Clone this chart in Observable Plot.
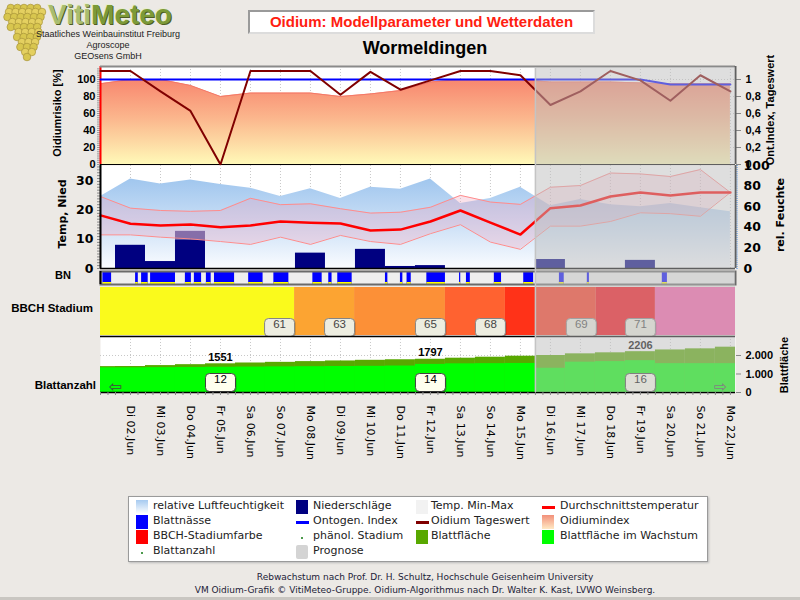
<!DOCTYPE html>
<html><head><meta charset="utf-8">
<script src="https://cdn.jsdelivr.net/npm/d3@7"></script>
<script src="https://cdn.jsdelivr.net/npm/@observablehq/plot@0.6"></script>
<style>
html,body{margin:0;padding:0;background:#ECE9E5;}
#root{position:relative;width:800px;height:600px;overflow:hidden;background:#ECE9E5;font-family:"Liberation Sans",Arial,sans-serif;}
.abs{position:absolute;}
.pl{position:absolute;left:0;width:800px;}
.pl svg{overflow:visible;display:block;}
.rot{position:absolute;white-space:nowrap;transform:translate(-50%,-50%) rotate(-90deg);font-weight:bold;}
</style></head><body><div id="root"></div>
<script>
// ---------------- DATA ----------------
const dayLabels = ["Mo 01.Jun","Di 02.Jun","Mi 03.Jun","Do 04.Jun","Fr 05.Jun","Sa 06.Jun","So 07.Jun","Mo 08.Jun","Di 09.Jun","Mi 10.Jun","Do 11.Jun","Fr 12.Jun","Sa 13.Jun","So 14.Jun","Mo 15.Jun","Di 16.Jun","Mi 17.Jun","Do 18.Jun","Fr 19.Jun","Sa 20.Jun","So 21.Jun","Mo 22.Jun"];
const oidiumIndex = [95,100,100,93,80,84,84,84,80,83,87,97,100,100,100,97,97,97,96,95,95,95];
const ontogenIndex = [1,1,1,1,1,1,1,1,1,1,1,1,1,1,1,1,1,1,1,0.94,0.94,0.94];
const oidiumTageswert = [1.10,1.10,0.86,0.63,0.0,1.10,1.10,1.10,0.82,1.09,0.88,0.99,1.10,1.10,1.05,0.70,0.86,1.10,0.99,0.75,1.05,0.86];
const humidity = [70,87,82,86,81.5,78,70,77.5,68,79,77,87,63,68,79,61,67,62,60,63,59,55];
const tempMean = [18.3,15.4,14.8,15.2,14.2,14.8,16.2,15.8,15.5,13.1,13.4,16.2,20.0,15.8,11.7,20.8,21.7,24.8,26.2,25.2,26.2,26.2];
const tempMax = [24.8,20.8,20.0,19.7,20.0,24.2,22.0,22.3,20.6,19.1,19.4,21.1,25.2,22.9,22.1,28.0,28.6,32.9,32.6,31.7,34.1,26.2];
const tempMin = [11.6,11.6,10.8,10.2,9.3,8.3,10.8,8.3,11.4,9.3,8.3,12.0,15.1,9.1,6.6,14.6,14.6,16.2,19.2,18.9,18.0,26.2];
const precipDays = [1,2,3,7,9,10,11,15,18];
const precipMm = [8.0,2.4,9.7,5.3,6.6,0.7,1.0,3.1,2.8];
const precipForecastDays = [3];
const precipForecastMm = [12.8];
const leafWetStart = [0.08,1.17,1.37,1.67,2.83,3.13,3.53,3.8,4.94,5.78,7.08,7.61,7.91,9.5,10.0,10.22,10.88,11.97,12.2,13.13,14.11,15.3,16.23,18.73];
const leafWetEnd   = [0.37,1.26,1.59,2.5,3.03,3.37,3.69,4.47,5.42,6.28,7.39,7.72,8.39,9.58,10.08,10.36,11.5,12.01,12.33,13.37,14.44,15.46,16.3,18.9];
const bbchCodes = ["57","61","63","65","68","69","71"];
const bbchStart = [0,6.47,8.47,11.5,13.5,16.53,18.5];
const leafAreaTotal = [1400,1405,1455,1505,1551,1595,1630,1670,1705,1740,1770,1797,1854,1908,1962,2000,2090,2145,2206,2300,2360,2450];
const leafAreaGrowing = [1335,1335,1345,1355,1365,1375,1385,1395,1405,1415,1430,1520,1550,1560,1570,1310,1640,1670,1720,1560,1560,1560];
const leafCountDays = [4,11,18];
const leafCount = [12,14,16];
const prognosisStart = 14.5;

// ---------------- SETUP ----------------
const XMAX = 21.17;
const root = document.getElementById("root");
const days = d3.range(dayLabels.length);
const gridDays = days.slice(1);
const oidTable = days.map(i => ({day: i, index: oidiumIndex[i], ontogen: ontogenIndex[i], tages: oidiumTageswert[i]}));
const humTable = days.map(i => ({day: i, hum: humidity[i]}));
const tempTable = days.map(i => ({day: i, mean: tempMean[i], max: tempMax[i], min: tempMin[i]}));
const precipTable = precipDays.map((d, k) => ({day: d, mm: precipMm[k]}));
const precipFcTable = precipForecastDays.map((d, k) => ({day: d, mm: precipForecastMm[k]}));
const bnTable = leafWetStart.map((s, k) => ({start: s, end: leafWetEnd[k]}));
const bbchTable = bbchCodes.map((c, k) => ({code: c, start: bbchStart[k], end: k + 1 < bbchStart.length ? bbchStart[k + 1] : XMAX}));
const leafTable = days.map(i => ({day: i, total: leafAreaTotal[i], growing: leafAreaGrowing[i]}));
const leafLabelTable = leafCountDays.map((d, k) => ({day: d, count: leafCount[k], area: leafAreaTotal[d]}));
const dayTable = days.map(i => ({day: i, label: dayLabels[i]}));
const prognosis = [{start: prognosisStart, end: XMAX}];

const common = {
  width: 800, marginLeft: 100, marginRight: 65,
  x: {domain: [0, XMAX], axis: null},
  style: {background: "transparent", overflow: "visible", color: "black", fontFamily: "Liberation Sans, Arial, sans-serif", fontSize: "11px"}
};
const dotted = {stroke: "#c8c8c8", strokeDasharray: "1,2"};
const svgNS = "http://www.w3.org/2000/svg";
function addGradient(svg, id, stops) {
  let defs = svg.querySelector("defs");
  if (!defs) { defs = document.createElementNS(svgNS, "defs"); svg.insertBefore(defs, svg.firstChild); }
  const g = document.createElementNS(svgNS, "linearGradient");
  g.setAttribute("id", id); g.setAttribute("x1", "0"); g.setAttribute("y1", "0"); g.setAttribute("x2", "0"); g.setAttribute("y2", "1");
  for (const [o, c] of stops) { const s = document.createElementNS(svgNS, "stop"); s.setAttribute("offset", o); s.setAttribute("stop-color", c); g.appendChild(s); }
  defs.appendChild(g);
}
function place(svg, top) {
  const div = document.createElement("div");
  div.className = "pl"; div.style.top = top + "px";
  div.appendChild(svg); root.appendChild(div);
  return svg;
}
// rounded label box symbol (30 x 18 px)
const boxSymbol = {draw(ctx) {
  const w = 15, h = 9, r = 4;
  ctx.moveTo(-w + r, -h); ctx.lineTo(w - r, -h); ctx.arcTo(w, -h, w, -h + r, r);
  ctx.lineTo(w, h - r); ctx.arcTo(w, h, w - r, h, r); ctx.lineTo(-w + r, h);
  ctx.arcTo(-w, h, -w, h - r, r); ctx.lineTo(-w, -h + r); ctx.arcTo(-w, -h, -w + r, -h, r); ctx.closePath();
}};
const fmtComma = d => d === 0 ? "0" : d === 1 ? "1" : d.toFixed(1).replace(".", ",");
const fmtThousand = d => d3.format(",")(d).replace(/,/g, ".");

// ---------------- PANEL 1: Oidium ----------------
const p1a = Plot.plot({...common, height: 99, marginTop: 0, marginBottom: 1,
  y: {domain: [0, 115.3], axis: null},
  marks: [
    Plot.frame({fill: "white", stroke: "none"}),
    Plot.ruleX(gridDays, dotted),
    Plot.ruleY([20, 40, 60, 80, 100], dotted),
    Plot.areaY(oidTable, {x: "day", y: "index", fill: "url(#gOid)"}),
    Plot.line(oidTable, {x: "day", y: "index", stroke: "#F47868", strokeWidth: 1}),
    Plot.axisY({ticks: d3.range(0, 115, 2.5), tickSize: 3, tickFormat: () => "", stroke: "#999", label: null}),
    Plot.axisY({ticks: [0, 20, 40, 60, 80, 100], tickSize: 0, tickPadding: 5, fontWeight: "bold", fontSize: 11, label: null}),
    Plot.ruleX([0], {stroke: "#FF0000", strokeWidth: 2}),
    Plot.ruleY([115.3], {stroke: "#8a8a8a", strokeWidth: 2}),
    Plot.ruleY([0], {stroke: "black"})
  ]});
addGradient(p1a, "gOid", [[0, "#F8866E"], [0.45, "#FBB58C"], [1, "#FFF9B8"]]);
place(p1a, 66);

const p1b = Plot.plot({...common, height: 99, marginTop: 0, marginBottom: 1,
  y: {domain: [0, 1.153], axis: null},
  marks: [
    Plot.line(oidTable, {x: "day", y: "ontogen", stroke: "#0000FF", strokeWidth: 2}),
    Plot.line(oidTable, {x: "day", y: "tages", stroke: "#800000", strokeWidth: 2}),
    Plot.axisY({anchor: "right", ticks: [0, 0.2, 0.4, 0.6, 0.8, 1], tickSize: 5, tickPadding: 5, tickFormat: fmtComma, fontWeight: "bold", fontSize: 11, stroke: "#888", label: null}),
    Plot.ruleX([XMAX], {stroke: "#606060", strokeWidth: 2})
  ]});
place(p1b, 66);

// ---------------- PANEL 2: Temp / Nied / Feuchte ----------------
const p2a = Plot.plot({...common, height: 104, marginTop: 0, marginBottom: 1,
  y: {domain: [0, 100], axis: null},
  marks: [
    Plot.frame({fill: "white", stroke: "none"}),
    Plot.ruleX(gridDays, dotted),
    Plot.areaY(humTable, {x: "day", y: "hum", fill: "url(#gHum)"}),
    Plot.axisY({anchor: "right", ticks: d3.range(0, 101, 2), tickSize: 2, tickFormat: () => "", stroke: "#8FB6E6", label: null}),
    Plot.axisY({anchor: "right", ticks: [0, 20, 40, 60, 80, 100], tickSize: 0, tickPadding: 8, fontFamily: "DejaVu Sans", fontWeight: "bold", fontSize: 12.5, label: null})
  ]});
addGradient(p2a, "gHum", [[0, "#A0C6EE"], [0.55, "#CFE2F7"], [1, "#FAFCFF"]]);
place(p2a, 165);

const p2b = Plot.plot({...common, height: 104, marginTop: 0, marginBottom: 1,
  y: {domain: [0, 35.5], axis: null},
  marks: [
    Plot.rectY(precipFcTable, {x1: d => d.day - 0.5, x2: d => d.day + 0.5, y: "mm", fill: "#5A5AA2"}),
    Plot.rectY(precipTable, {x1: d => d.day - 0.5, x2: d => d.day + 0.5, y: "mm", fill: "#000080"}),
    Plot.areaY(tempTable, {x: "day", y1: "min", y2: "max", fill: "#F0A0B8", fillOpacity: 0.3}),
    Plot.line(tempTable, {x: "day", y: "max", stroke: "#FF8C8C", strokeWidth: 1}),
    Plot.line(tempTable, {x: "day", y: "min", stroke: "#FF8C8C", strokeWidth: 1}),
    Plot.line(tempTable, {x: "day", y: "mean", stroke: "#FF0000", strokeWidth: 2.5}),
    Plot.axisY({ticks: d3.range(0, 35.5, 1), tickSize: 3, tickFormat: () => "", stroke: "#888", label: null}),
    Plot.axisY({ticks: [0, 10, 20, 30], tickSize: 0, tickPadding: 7, fontFamily: "DejaVu Sans", fontWeight: "bold", fontSize: 12.5, label: null}),
    Plot.ruleX([0], {stroke: "black", strokeWidth: 2}),
    Plot.ruleX([XMAX], {stroke: "#606060", strokeWidth: 2}),
    Plot.ruleY([0], {stroke: "black", strokeWidth: 1.5})
  ]});
place(p2b, 165);

// ---------------- BN strip ----------------
const p3 = Plot.plot({...common, height: 15, marginTop: 1, marginBottom: 1,
  marks: [
    Plot.frame({fill: "#EEEEEE", stroke: "none"}),
    Plot.rect(bnTable, {x1: "start", x2: "end", fill: "#0000FF"}),
    Plot.rect(bnTable, {x1: "start", x2: "end", fill: "#FFFF00", insetTop: 11}),
    Plot.frame({stroke: "#6a6a6a", strokeWidth: 2}),
    Plot.ruleX([0], {stroke: "black", strokeWidth: 2})
  ]});
place(p3, 270);

// ---------------- BBCH ----------------
const bbchLabels = bbchTable.slice(1);
const p4 = Plot.plot({...common, height: 48, marginTop: 0, marginBottom: 0,
  color: {domain: bbchCodes, range: ["#FAFA1C", "#FCA432", "#FC9037", "#FF6230", "#FF3218", "#F8040E", "#FA5AA8"]},
  marks: [
    Plot.rect(bbchTable, {x1: "start", x2: "end", fill: "code"}),
    Plot.dot(bbchLabels, {x: "start", frameAnchor: "bottom", dy: -7, dx: -14, symbol: boxSymbol, fill: "rgba(0,0,0,0.22)", stroke: "none"}),
    Plot.dot(bbchLabels, {x: "start", frameAnchor: "bottom", dy: -8, dx: -15, symbol: boxSymbol, fill: "#EDEDE0", stroke: "#858585", strokeWidth: 1}),
    Plot.text(bbchLabels, {x: "start", text: "code", frameAnchor: "bottom", dy: -8, dx: -15, fill: "#444", fontSize: 11.5})
  ]});
place(p4, 287);

// ---------------- Blattfläche ----------------
const clampX = v => Math.max(0, Math.min(XMAX, v));
const p5 = Plot.plot({...common, height: 56, marginTop: 0, marginBottom: 0,
  y: {domain: [0, 3027], axis: null},
  marks: [
    Plot.frame({fill: "white", stroke: "none"}),
    Plot.ruleX(gridDays, dotted),
    Plot.ruleY([1000, 2000], dotted),
    Plot.rectY(leafTable, {x1: d => clampX(d.day - 0.5), x2: d => clampX(d.day + 0.5), y: "total", fill: "#58A800"}),
    Plot.rectY(leafTable, {x1: d => clampX(d.day - 0.5), x2: d => clampX(d.day + 0.5), y: "growing", fill: "#00FF00"}),
    Plot.text(leafLabelTable, {x: "day", y: "area", text: d => String(d.area), lineAnchor: "bottom", dy: -3, fontWeight: "bold", fontSize: 11}),
    Plot.dot(leafLabelTable, {x: "day", frameAnchor: "bottom", dy: -9, dx: 1, symbol: boxSymbol, fill: "rgba(0,0,0,0.25)", stroke: "none"}),
    Plot.dot(leafLabelTable, {x: "day", frameAnchor: "bottom", dy: -10, symbol: boxSymbol, fill: "#FFFFEE", stroke: "#404040", strokeWidth: 1}),
    Plot.text(leafLabelTable, {x: "day", text: d => String(d.count), frameAnchor: "bottom", dy: -10, fontSize: 11.5}),
    Plot.ruleY([3027], {stroke: "black", strokeWidth: 1.5}),
    Plot.ruleY([0], {stroke: "black", strokeWidth: 1.5}),
    Plot.axisX({ticks: d3.range(0, XMAX, 0.25), tickSize: 3, tickFormat: () => "", stroke: "#888", label: null}),
    Plot.text(dayTable.slice(1), {x: "day", text: "label", frameAnchor: "bottom", rotate: 90, textAnchor: "start", lineAnchor: "middle", dy: 13, fontSize: 11, fontFamily: "DejaVu Sans"}),
    Plot.axisY({anchor: "right", ticks: [0, 1000, 2000], tickSize: 5, tickPadding: 5, tickFormat: fmtThousand, fontWeight: "bold", fontSize: 11, stroke: "#888", label: null}),
    Plot.text(["\u21E6"], {text: d => d, frameAnchor: "bottom-left", dx: 8, dy: -1, fontSize: 16, fontFamily: "DejaVu Sans", fill: "#444"}),
    Plot.text(["\u21E8"], {text: d => d, frameAnchor: "bottom-right", dx: -8, dy: -1, fontSize: 16, fontFamily: "DejaVu Sans", fill: "#444"})
  ]});
place(p5, 336);

// ---------------- Prognose overlay ----------------
const p6 = Plot.plot({...common, height: 325, marginTop: 0, marginBottom: 0,
  marks: [
    Plot.rect(prognosis, {x1: "start", x2: "end", fill: "rgb(190,190,190)", fillOpacity: 0.5}),
    Plot.ruleX(prognosis, {x: "start", stroke: "#c4c4c4", strokeWidth: 1.5})
  ]});
place(p6, 67);
p6.style.pointerEvents = "none";

// ---------------- Texts ----------------
function txt(html, css) { const d = document.createElement("div"); d.className = "abs"; d.innerHTML = html; Object.assign(d.style, css); root.appendChild(d); return d; }
function rot(text, cx, cy, css) { const d = document.createElement("div"); d.className = "rot"; d.textContent = text; d.style.left = cx + "px"; d.style.top = cy + "px"; Object.assign(d.style, css || {}); root.appendChild(d); }

// Logo
const logo = document.createElementNS(svgNS, "svg");
logo.setAttribute("width", 60); logo.setAttribute("height", 66);
logo.style.position = "absolute"; logo.style.left = "0px"; logo.style.top = "0px";
const grapeRows = [[8, 5], [12, 6], [17, 6], [22, 5], [27, 5], [32, 4], [37, 4], [42, 3], [47, 3], [52, 2], [57, 1]];
grapeRows.forEach(([y, n], r) => {
  for (let k = 0; k < n; k++) {
    const c = document.createElementNS(svgNS, "circle");
    const x = 24 - (n - 1) * 3.3 + k * 6.6 + (r % 2 ? 1.5 : 0) + (r > 4 ? 3 : 0);
    c.setAttribute("cx", x); c.setAttribute("cy", y); c.setAttribute("r", 3.8);
    c.setAttribute("fill", r % 2 ? "#E4D060" : "#D8C64E"); c.setAttribute("stroke", "#A8943A"); c.setAttribute("stroke-width", 0.7);
    logo.appendChild(c);
  }
});
root.appendChild(logo);
txt('<span style="color:#A9BD70">Viti</span><span style="color:#7C9A38">Meteo</span>', {left: "48px", top: "3px", lineHeight: "23px", height: "23px", fontSize: "28px", fontWeight: "bold", whiteSpace: "nowrap", textShadow: "1px 1px 0 #4E5E22, -1px -1px 0 #E8EED0"});
const subCss = {left: "28px", width: "160px", textAlign: "center", fontSize: "9px", lineHeight: "11px", color: "#222", whiteSpace: "nowrap"};
txt("Staatliches Weinbauinstitut Freiburg", {...subCss, top: "29px"});
txt("Agroscope", {...subCss, top: "40px"});
txt("GEOsens GmbH", {...subCss, top: "51px"});

// Title
txt("Oidium: Modellparameter und Wetterdaten", {left: "248px", top: "10px", width: "343px", height: "20px", lineHeight: "20px", textAlign: "center", background: "white",
  borderTop: "2px solid #9a9a9a", borderLeft: "2px solid #9a9a9a", borderRight: "2px solid #dcdcdc", borderBottom: "2px solid #dcdcdc",
  color: "#FF2010", fontWeight: "bold", fontSize: "15px"});
txt("Wormeldingen", {left: "325px", top: "38px", width: "200px", textAlign: "center", fontWeight: "bold", fontSize: "18px", color: "#000"});

// Axis titles
rot("Oidiumrisiko [%]", 57, 113, {fontSize: "11px"});
rot("Temp, Nied", 62, 214, {fontSize: "11px", fontFamily: "DejaVu Sans"});
txt("BN", {left: "55px", top: "269px", fontSize: "11px", fontWeight: "bold"});
txt("BBCH Stadium", {left: "0px", width: "93px", textAlign: "right", top: "302px", fontSize: "11.5px", fontWeight: "bold"});
txt("Blattanzahl", {left: "0px", width: "96px", textAlign: "right", top: "379px", fontSize: "11.5px", fontWeight: "bold"});
rot("Ont.Index, Tageswert", 770, 110, {fontSize: "11px"});
rot("rel. Feuchte", 780, 215, {fontSize: "11px", fontFamily: "DejaVu Sans"});
rot("Blattfläche", 784, 365, {fontSize: "11px"});

// Legend
const legendLabels = [
  ["relative Luftfeuchtigkeit", "Blattnässe", "BBCH-Stadiumfarbe", "Blattanzahl"],
  ["Niederschläge", "Ontogen. Index", "phänol. Stadium", "Prognose"],
  ["Temp. Min-Max", "Oidium Tageswert", "Blattfläche"],
  ["Durchschnittstemperatur", "Oidiumindex", "Blattfläche im Wachstum"]
];
const legendSwatches = [
  ["linear-gradient(#A6CAF0,#FFFFFF)", "#0000FF", "#FF0000", "dot"],
  ["#000080", "line:#0000FF", "dot", "#D4D4D4"],
  ["#F2F2F2", "line:#800000", "#58A800"],
  ["line:#FF0000", "linear-gradient(#F2907A,#FFE9C4)", "#00FF00"]
];
const legendTextX = [153, 313, 431, 560];
const legendSwX = [136, 296, 416, 542];
txt("", {left: "128px", top: "496px", width: "578px", height: "64px", background: "white", border: "1px solid #9a9a9a", boxShadow: "1px 1px 2px #bbb"});
legendLabels.forEach((col, c) => col.forEach((lab, r) => {
  const cy = 507 + r * 15;
  const sw = legendSwatches[c][r];
  if (sw === "dot") txt("", {left: (legendSwX[c] + 5) + "px", top: (cy) + "px", width: "2px", height: "2px", background: "#4C9A4C"});
  else if (sw.startsWith("line:")) txt("", {left: legendSwX[c] + "px", top: (cy - 1) + "px", width: "13px", height: "3px", background: sw.slice(5)});
  else txt("", {left: legendSwX[c] + "px", top: (cy - 7) + "px", width: "12px", height: "14px", background: sw, borderRadius: sw === "#D4D4D4" ? "2px" : "0"});
  txt(lab, {left: legendTextX[c] + "px", top: (cy - 8) + "px", fontFamily: "DejaVu Sans", fontSize: "11px", color: "#222", whiteSpace: "nowrap"});
}));

// Footer
txt("Rebwachstum nach Prof. Dr. H. Schultz, Hochschule Geisenheim University", {left: "0px", width: "850px", textAlign: "center", top: "572px", fontFamily: "DejaVu Sans", fontSize: "9px", color: "#1c1c38"});
txt("VM Oidium-Grafik © VitiMeteo-Gruppe. Oidium-Algorithmus nach Dr. Walter K. Kast, LVWO Weinsberg.", {left: "0px", width: "850px", textAlign: "center", top: "585px", fontFamily: "DejaVu Sans", fontSize: "9px", color: "#1c1c38"});
txt("", {left: "0px", top: "597px", width: "800px", height: "3px", background: "#C9C6C1"});
</script></body></html>
